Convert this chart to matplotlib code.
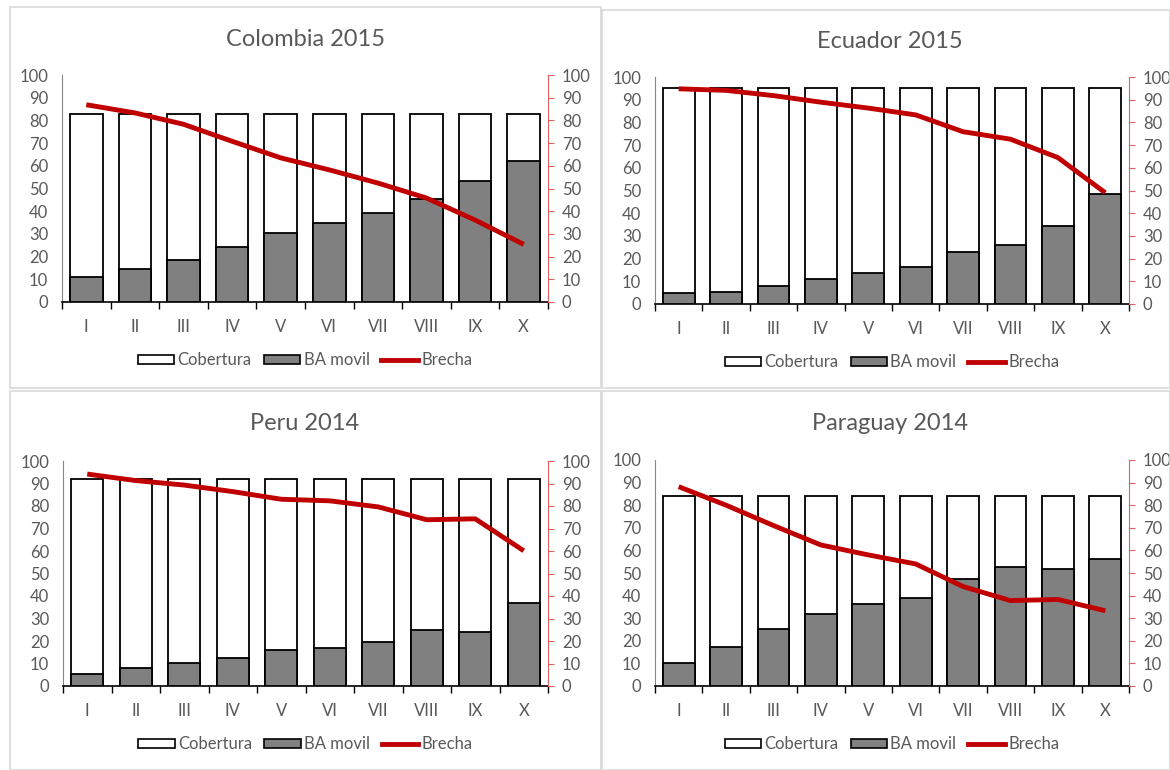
import matplotlib
matplotlib.use("Agg")
import matplotlib.pyplot as plt
from matplotlib.patches import Rectangle, Patch
from matplotlib.lines import Line2D

plt.rcParams['font.family'] = ['Lato', 'DejaVu Sans']

categories = ["I", "II", "III", "IV", "V", "VI", "VII", "VIII", "IX", "X"]

titles = ["Colombia 2015", "Ecuador 2015", "Peru 2014", "Paraguay 2014"]

colombia_cob = [83] * 10
colombia_ba = [10.8, 14.5, 18.5, 24.4, 30.4, 35, 39.4, 45.4, 53.3, 61.9]
colombia_brecha = [86.9, 83.3, 78.3, 70.8, 63.5, 58.2, 52.4, 45.8, 36.1, 25.4]

ecuador_cob = [95.1] * 10
ecuador_ba = [4.9, 5.5, 8.1, 11.2, 13.7, 16.1, 22.9, 26.0, 34.4, 48.3]
ecuador_brecha = [94.8, 94.1, 91.8, 88.9, 86.3, 83.3, 75.9, 72.6, 64.5, 49.0]

peru_cob = [92] * 10
peru_ba = [5.5, 8.1, 10.3, 12.6, 15.8, 17.0, 19.5, 24.7, 24.1, 36.9]
peru_brecha = [94.2, 91.3, 89.3, 86.4, 83.0, 82.3, 79.6, 73.9, 74.3, 60.1]

paraguay_cob = [84.1] * 10
paraguay_ba = [10.3, 17.4, 25.2, 31.9, 36.4, 38.9, 47.5, 52.5, 51.6, 56.0]
paraguay_brecha = [88.2, 80.0, 71.0, 62.4, 58.0, 54.0, 44.0, 37.8, 38.3, 33.3]

W, H = 1170, 770
fig = plt.figure(figsize=(W / 100, H / 100), dpi=100)
fig.patch.set_facecolor("white")

GRAY_TXT = "#595959"
RED = "#c00000"

# panel frames (pixel coords: x0, y0_top, x1, y1_bottom)
frames = [(10, 7, 601, 388), (602, 10, 1170, 388), (10, 391, 601, 770), (602, 391, 1170, 770)]
for (x0, y0, x1, y1) in frames:
    fig.add_artist(Rectangle((x0 / W, 1 - y1 / H), (x1 - x0) / W, (y1 - y0) / H,
                             transform=fig.transFigure, fill=False,
                             edgecolor="#d9d9d9", linewidth=1.2))

# plot areas: left, right, top(y=100), bottom(y=0)
areas = [(62, 548, 75, 302), (655, 1129, 77, 304), (63, 548, 461, 686), (655, 1129, 460, 686)]
title_pos = [(305, 39), (890, 41), (305, 423), (890, 423)]
legend_y = [360, 362, 744, 744]

data = [(colombia_cob, colombia_ba, colombia_brecha),
        (ecuador_cob, ecuador_ba, ecuador_brecha),
        (peru_cob, peru_ba, peru_brecha),
        (paraguay_cob, paraguay_ba, paraguay_brecha)]

x = list(range(len(categories)))
for i, ((l, r, t, b), (cob, ba, br)) in enumerate(zip(areas, data)):
    ax = fig.add_axes([l / W, 1 - b / H, (r - l) / W, (b - t) / H])
    ax.bar(x, cob, width=0.67, color="white", edgecolor="black", linewidth=1.3, zorder=2)
    ax.bar(x, ba, width=0.67, color="#808080", edgecolor="black", linewidth=1.3, zorder=3)
    ax.set_xlim(-0.5, len(categories) - 0.5)
    ax.set_ylim(0, 100)
    ax.set_yticks(range(0, 101, 10))
    ax.tick_params(axis="y", length=0, labelsize=12, labelcolor=GRAY_TXT, pad=10)
    ax.set_xticks(x)
    ax.set_xticklabels(categories)
    ax.set_xticks([k - 0.5 for k in range(len(categories) + 1)], minor=True)
    ax.tick_params(axis="x", which="major", length=0, labelsize=12, labelcolor=GRAY_TXT, pad=12)
    ax.tick_params(axis="x", which="minor", length=5, color="black", width=1)
    for s in ["top", "right"]:
        ax.spines[s].set_visible(False)
    ax.spines["left"].set_color("#868686")
    ax.spines["bottom"].set_color("black")
    ax.spines["bottom"].set_linewidth(1.2)

    ax2 = ax.twinx()
    ax2.plot(x, br, color=RED, linewidth=3.5, zorder=5, solid_capstyle="butt")
    ax2.set_ylim(0, 100)
    ax2.set_yticks(range(0, 101, 10))
    ax2.tick_params(axis="y", length=4, color="#e06060", labelsize=12, labelcolor=GRAY_TXT, pad=6)
    for s in ["top", "left", "bottom"]:
        ax2.spines[s].set_visible(False)
    ax2.spines["right"].set_color("#e06060")

    tx, ty = title_pos[i]
    fig.text(tx / W, 1 - ty / H, titles[i], ha="center", va="center",
             fontsize=17, color=GRAY_TXT)

    handles = [Patch(facecolor="white", edgecolor="black", linewidth=1.2),
               Patch(facecolor="#808080", edgecolor="black", linewidth=1.2),
               Line2D([0], [0], color=RED, linewidth=3.5)]
    leg = fig.legend(handles, ["Cobertura", "BA movil", "Brecha"],
                     loc="center", bbox_to_anchor=(((l + r) / 2) / W, 1 - legend_y[i] / H),
                     ncol=3, frameon=False, fontsize=12, handlelength=2.2, handleheight=0.45,
                     handletextpad=0.2, columnspacing=0.7, labelcolor=GRAY_TXT)

fig.savefig("out.png", dpi=100, facecolor="white")
